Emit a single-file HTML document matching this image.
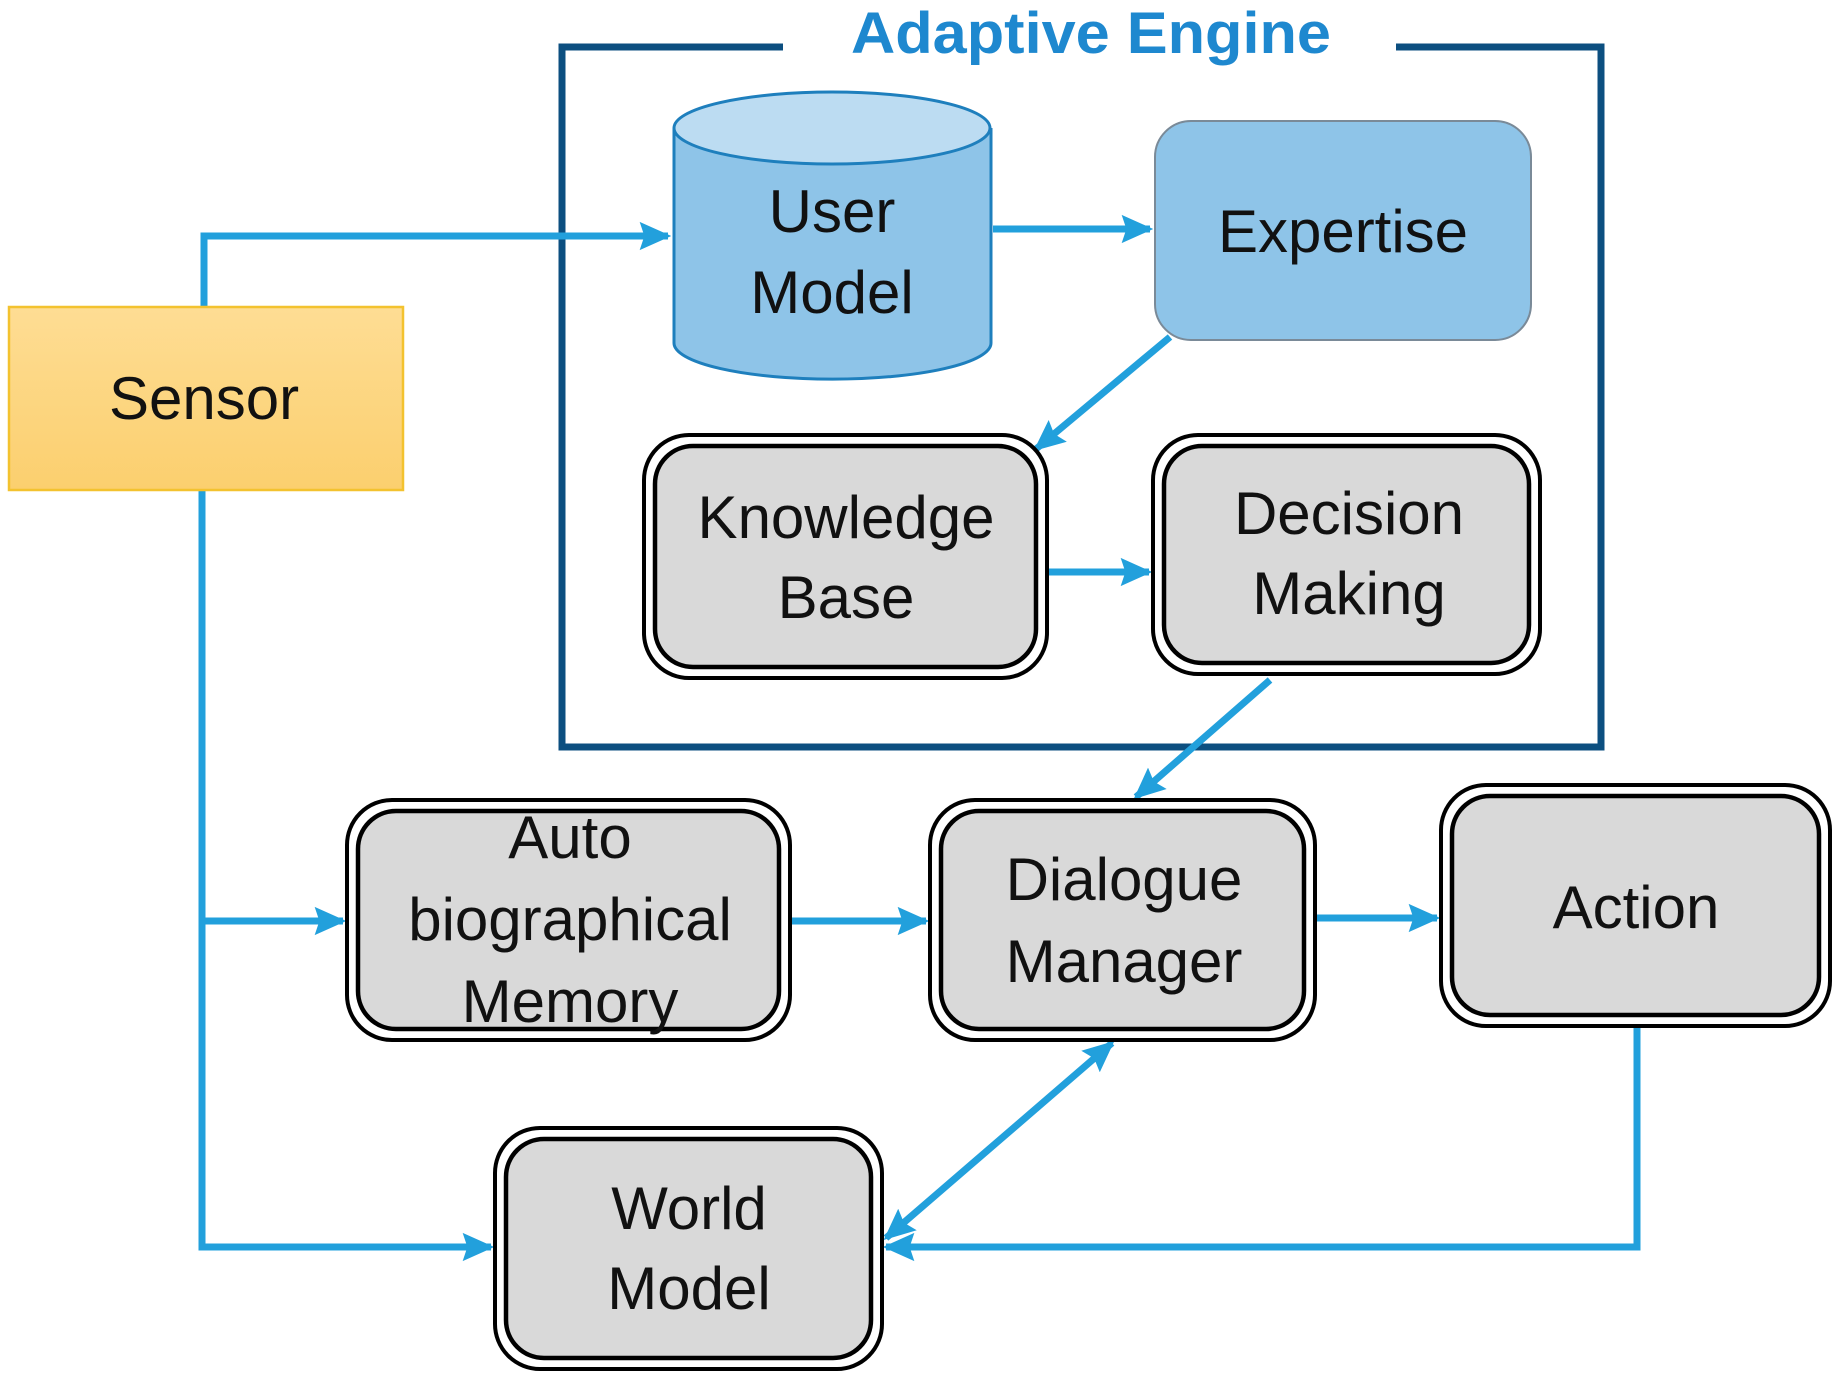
<!DOCTYPE html>
<html><head><style>
html,body{margin:0;padding:0;background:#fff;}
svg{display:block;}
text{font-family:"Liberation Sans",sans-serif;}
</style></head><body>
<svg width="1839" height="1379" viewBox="0 0 1839 1379" xmlns="http://www.w3.org/2000/svg">
<defs>
<marker id="ah" viewBox="0 0 10 10" refX="9" refY="5" markerWidth="4.5" markerHeight="4.5" orient="auto-start-reverse" markerUnits="strokeWidth">
<path d="M0,0.5 L10,5 L0,9.5 L1.5,5 z" fill="#22a0dc"/>
</marker>
<linearGradient id="sg" x1="0" y1="0" x2="0" y2="1">
<stop offset="0" stop-color="#fedd94"/><stop offset="1" stop-color="#fbcf6e"/>
</linearGradient>
</defs>

<path d="M783,47 L562,47 L562,747 L1601,747 L1601,47 L1396,47" fill="none" stroke="#0c4f80" stroke-width="7"/>
<text x="1091" y="53" font-size="58" font-weight="bold" fill="#1e88cf" text-anchor="middle" textLength="480" lengthAdjust="spacingAndGlyphs">Adaptive Engine</text>

<g stroke="#22a0dc" stroke-width="7" fill="none">
<path d="M204,307 L204,236 L668,236" marker-end="url(#ah)"/>
<path d="M993,229 L1150,229" marker-end="url(#ah)"/>
<path d="M1170,337 L1036,449" marker-end="url(#ah)"/>
<path d="M1049,572 L1149,572" marker-end="url(#ah)"/>
<path d="M1270,680 L1136,797" marker-end="url(#ah)"/>
<path d="M202,490 L202,1247 L491,1247" marker-end="url(#ah)"/>
<path d="M202,921 L343,921" marker-end="url(#ah)"/>
<path d="M792,921 L926,921" marker-end="url(#ah)"/>
<path d="M1315,918 L1437,918" marker-end="url(#ah)"/>
<path d="M886,1238 L1112,1043" marker-start="url(#ah)" marker-end="url(#ah)"/>
<path d="M1637,1026 L1637,1247 L886,1247" marker-end="url(#ah)"/>
</g>

<rect x="9" y="307" width="394" height="183" fill="url(#sg)" stroke="#f3c22f" stroke-width="2.5"/>
<text x="204" y="419" font-size="60" text-anchor="middle" fill="#111">Sensor</text>

<path d="M674,128 L674,343 A158,36 0 0 0 991,343 L991,128" fill="#8ec4e8" stroke="#1e7fbd" stroke-width="3"/>
<ellipse cx="832" cy="128" rx="158" ry="36" fill="#bcdcf2" stroke="#1e7fbd" stroke-width="3"/>
<text x="832" y="232" font-size="60" text-anchor="middle" fill="#111">User</text>
<text x="832" y="313" font-size="60" text-anchor="middle" fill="#111">Model</text>

<rect x="1155" y="121" width="376" height="219" rx="36" fill="#8ec4e8" stroke="#7a8a98" stroke-width="2"/>
<text x="1343" y="252" font-size="60" text-anchor="middle" fill="#111">Expertise</text>

<g fill="#d9d9d9" stroke="#000">
<rect x="644" y="435" width="403" height="243" rx="45" fill="#fff" stroke-width="4"/>
<rect x="655" y="446" width="381" height="221" rx="38" stroke-width="4.5"/>
<rect x="1153" y="435" width="387" height="239" rx="45" fill="#fff" stroke-width="4"/>
<rect x="1164" y="446" width="365" height="217" rx="38" stroke-width="4.5"/>
<rect x="347" y="800" width="443" height="240" rx="45" fill="#fff" stroke-width="4"/>
<rect x="358" y="811" width="421" height="218" rx="38" stroke-width="4.5"/>
<rect x="930" y="800" width="385" height="240" rx="45" fill="#fff" stroke-width="4"/>
<rect x="941" y="811" width="363" height="218" rx="38" stroke-width="4.5"/>
<rect x="1441" y="785" width="389" height="241" rx="45" fill="#fff" stroke-width="4"/>
<rect x="1452" y="796" width="367" height="219" rx="38" stroke-width="4.5"/>
<rect x="495" y="1128" width="387" height="241" rx="45" fill="#fff" stroke-width="4"/>
<rect x="506" y="1139" width="365" height="219" rx="38" stroke-width="4.5"/>
</g>

<g font-size="60" text-anchor="middle" fill="#111">
<text x="846" y="538">Knowledge</text>
<text x="846" y="618">Base</text>
<text x="1349" y="534">Decision</text>
<text x="1349" y="614">Making</text>
<text x="570" y="858">Auto</text>
<text x="570" y="940">biographical</text>
<text x="570" y="1022">Memory</text>
<text x="1124" y="900">Dialogue</text>
<text x="1124" y="982">Manager</text>
<text x="1636" y="928">Action</text>
<text x="689" y="1229">World</text>
<text x="689" y="1309">Model</text>
</g>
</svg>
</body></html>
